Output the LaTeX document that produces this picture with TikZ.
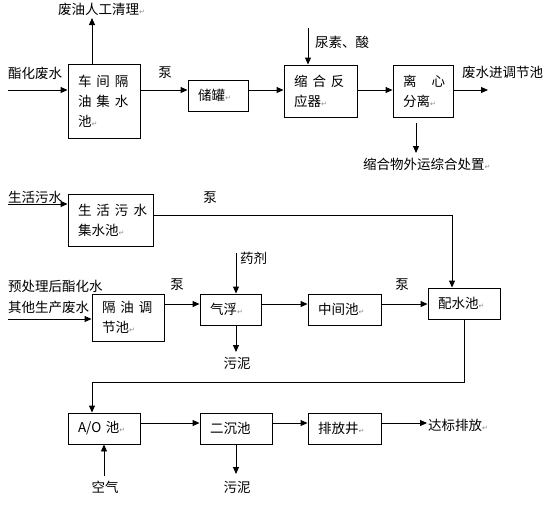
\documentclass[tikz,border=0pt]{standalone}
\usepackage{fontspec}
\newfontfamily\cjk{Noto Sans CJK SC}
\newfontfamily\djv{DejaVu Sans}
\usetikzlibrary{arrows.meta}
\newcommand\parmk{{\djv\fontsize{7}{7}\selectfont\color{black!45}↵}}
\newcommand\gp{\kern5pt}
\begin{document}
\begin{tikzpicture}[x=1pt,y=-1pt,
  font=\cjk\fontsize{13.5}{20}\selectfont,
  box/.style={draw, line width=0.9pt, align=left, inner xsep=10pt, inner ysep=0pt, anchor=center},
  arr/.style={-{Triangle[length=7pt,width=6pt]}, line width=0.9pt},
  ln/.style={line width=0.9pt},
  lbl/.style={inner sep=0pt, anchor=west},
  clbl/.style={inner sep=0pt, anchor=center}]
\useasboundingbox[fill=white] (0,0) rectangle (545,504);

% boxes
\node[box, text width=52pt, minimum height=74pt] (b1) at (104,101) {车\gp 间\gp 隔\\油\gp 集\gp 水\\池\parmk};
\node[box, text width=40pt, minimum height=31pt] (b2) at (218,95.5) {储罐\parmk};
\node[box, text width=53pt, minimum height=52pt] (b3) at (320.5,91) {缩\gp 合\gp 反\\应器\parmk};
\node[box, text width=40pt, minimum height=52pt] (b4) at (423,91) {离\kern15pt 心\\分离\parmk};
\node[box, text width=65pt, minimum height=52pt] (b5) at (110.5,220) {生\gp 活\gp 污\gp 水\\集水池\parmk};
\node[box, text width=52pt, minimum height=47pt] (b6) at (128,317.5) {隔\gp 油\gp 调\\节池\parmk};
\node[box, text width=41pt, minimum height=31pt] (b7) at (230.5,309.5) {气浮\parmk};
\node[box, text width=53pt, minimum height=31pt] (b8) at (344.5,309.5) {中间池\parmk};
\node[box, text width=52pt, minimum height=31pt] (b9) at (464,303.5) {配水池\parmk};
\node[box, text width=52pt, minimum height=31pt] (b10) at (104,428.5) {A/O 池\parmk};
\node[box, text width=52pt, minimum height=31pt] (b11) at (236,428.5) {二沉池};
\node[box, text width=53pt, minimum height=31pt] (b12) at (344.5,428.5) {排放井\parmk};

% labels
\node[lbl] (l1) at (58,9) {废油人工清理\parmk};
\node[lbl] (l2) at (8,73) {酯化废水};
\node[clbl] (l3) at (165,73) {泵};
\node[lbl] (l4) at (315,42) {尿素、酸};
\node[lbl] (l5) at (462,72) {废水进调节池};
\node[lbl] (l6) at (363,164) {缩合物外运综合处置\parmk};
\node[lbl] (l7) at (8,197) {生活污水};
\node[clbl] (l8) at (210,198) {泵};
\node[lbl] (l9) at (240,258) {药剂};
\node[lbl] (l10) at (8,286) {预处理后酯化水};
\node[lbl] (l11) at (8,307) {其他生产废水};
\node[clbl] (l12) at (177,285) {泵};
\node[clbl] (l13) at (237,363) {污泥};
\node[clbl] (l14) at (402,285) {泵};
\node[clbl] (l15) at (105,487) {空气};
\node[clbl] (l16) at (237,487) {污泥};
\node[lbl] (l17) at (428,425) {达标排放\parmk};

% coordinates
\coordinate (r90) at (0,90);
\coordinate (r304) at (0,304);
\coordinate (r423) at (0,423);
\coordinate (s1) at (8,90);
\coordinate (t1) at (92,18);
\coordinate (u1) at (308,28);
\coordinate (o1) at (488,90);
\coordinate (o2) at (416,153);
\coordinate (s2) at (8,204);
\coordinate (k1) at (452,215);
\coordinate (s3) at (8,319);
\coordinate (u2) at (236,253);
\coordinate (o3) at (236,352);
\coordinate (k2) at (464,382);
\coordinate (k3) at (92,382);
\coordinate (u3) at (104,476);
\coordinate (o4) at (236,474);
\coordinate (o5) at (427,423);

% connectors
\draw[arr] (s1) -- (b1.west |- r90);
\draw[arr] (b1.north -| t1) -- (t1);
\draw[arr] (b1.east |- r90) -- (b2.west |- r90);
\draw[arr] (b2.east |- r90) -- (b3.west |- r90);
\draw[arr] (u1) -- (b3.north -| u1);
\draw[arr] (b3.east |- r90) -- (b4.west |- r90);
\draw[arr] (b4.east |- r90) -- (o1);
\draw[arr, shorten <=6pt] (b4.south -| o2) -- (o2);
\draw[arr] (s2) -- (b5.west |- s2);
\draw[arr] (b5.east |- k1) -- (k1) -- (b9.north -| k1);
\draw[arr] (s3) -- (b6.west |- s3);
\draw[arr] (b6.east |- r304) -- (b7.west |- r304);
\draw[arr] (u2) -- (b7.north -| u2);
\draw[arr] (b7.south -| o3) -- (o3);
\draw[arr] (b7.east |- r304) -- (b8.west |- r304);
\draw[arr] (b8.east |- r304) -- (b9.west |- r304);
\draw[arr] (b9.south -| k2) -- (k2) -- (k3) -- (b10.north -| k3);
\draw[arr] (u3) -- (b10.south -| u3);
\draw[arr] (b10.east |- r423) -- (b11.west |- r423);
\draw[arr] (b11.south -| o4) -- (o4);
\draw[arr] (b11.east |- r423) -- (b12.west |- r423);
\draw[arr] (b12.east |- r423) -- (o5);
\end{tikzpicture}
\end{document}
